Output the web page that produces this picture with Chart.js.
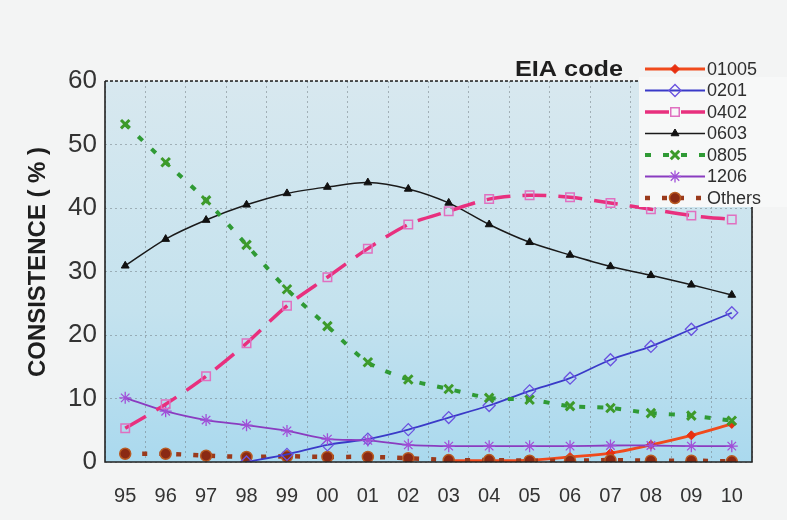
<!DOCTYPE html>
<html>
<head>
<meta charset="utf-8">
<title>EIA code consistence</title>
<script src="https://cdn.jsdelivr.net/npm/chart.js@4.4.1/dist/chart.umd.min.js"></script>
<style>
  html, body { margin: 0; padding: 0; background: #f3f4f4; }
  #wrap { width: 787px; height: 520px; position: relative; }
</style>
</head>
<body>
<div id="wrap"><canvas id="eiaChart"></canvas></div>
<script>
'use strict';

// data ------------------------------------------------------------------------
const years = ['95', '96', '97', '98', '99', '00', '01', '02', '03', '04', '05', '06', '07', '08', '09', '10'];
const yTicks = [0, 10, 20, 30, 40, 50, 60];

const code01005 = [null, null, null, null, null, null, null, null, 0.2, 0.2, 0.3, 0.8, 1.4, 2.7, 4.2, 6.0];
const code0201 = [null, null, null, 0, 1.2, 2.7, 3.6, 5.1, 7.0, 8.9, 11.2, 13.2, 16.1, 18.2, 20.9, 23.5];
const code0402 = [5.3, 9.1, 13.5, 18.7, 24.6, 29.1, 33.6, 37.4, 39.5, 41.4, 42.0, 41.7, 40.8, 39.8, 38.8, 38.2];
const code0603 = [30.9, 35.1, 38.1, 40.5, 42.3, 43.3, 44.0, 43.0, 40.8, 37.4, 34.6, 32.6, 30.8, 29.4, 27.9, 26.3];
const code0805 = [53.2, 47.2, 41.2, 34.2, 27.2, 21.4, 15.7, 13.0, 11.5, 10.1, 9.8, 8.8, 8.5, 7.7, 7.3, 6.5];
const code1206 = [10.1, 8.0, 6.6, 5.8, 4.9, 3.6, 3.4, 2.7, 2.5, 2.5, 2.5, 2.5, 2.6, 2.6, 2.5, 2.5];
const codeOthers = [1.3, 1.3, 1.0, 0.8, 0.9, 0.8, 0.8, 0.6, 0.3, 0.3, 0.2, 0.2, 0.3, 0.2, 0.2, 0.1];

const legendTitle = 'EIA code';
const yTitle = 'CONSISTENCE ( % )';
const fontName = "'Liberation Sans', Arial, sans-serif";

// datasets -------------------------------------------------------------------
function series(label, data, style) {
  return Object.assign({
    label: label,
    data: data,
    fill: false,
    tension: 0.3,
    spanGaps: false,
    pointHoverRadius: 0
  }, style);
}

let datasets = [
  series('0805', code0805, {
    borderColor: '#2f9a35', borderWidth: 4, borderDash: [6, 12],
    pointStyle: 'crossRot', pointRadius: 6, pointBorderColor: '#3d9a2a',
    pointBorderWidth: 3, pointBackgroundColor: '#3d9a2a'
  }),
  series('0402', code0402, {
    borderColor: '#e8307e', borderWidth: 3.5, borderDash: [24, 12],
    pointStyle: 'rect', pointRadius: 6, pointBorderColor: '#e070c0',
    pointBorderWidth: 1.5, pointBackgroundColor: 'rgba(255,255,255,0)'
  }),
  series('0603', code0603, {
    borderColor: '#1a1a1a', borderWidth: 1.5,
    pointStyle: 'triangle', pointRadius: 4.5, pointBorderColor: '#111',
    pointBackgroundColor: '#111', pointBorderWidth: 1
  }),
  series('1206', code1206, {
    borderColor: '#8a3cc0', borderWidth: 1.8,
    pointStyle: 'star', pointRadius: 6, pointBorderColor: '#a050d8',
    pointBorderWidth: 1.3, pointBackgroundColor: '#a050d8'
  }),
  series('0201', code0201, {
    borderColor: '#3a3ac8', borderWidth: 1.8,
    pointStyle: 'rectRot', pointRadius: 6, pointBorderColor: '#6a52e0',
    pointBorderWidth: 1.3, pointBackgroundColor: 'rgba(255,255,255,0)'
  }),
  series('Others', codeOthers, {
    borderColor: '#9a3a1c', borderWidth: 4.5, borderDash: [5, 12],
    pointStyle: 'circle', pointRadius: 5.5, pointBorderColor: '#b85a22',
    pointBorderWidth: 1.5, pointBackgroundColor: '#8a2a14'
  }),
  series('01005', code01005, {
    borderColor: '#f04a1c', borderWidth: 2.8,
    pointStyle: 'rectRot', pointRadius: 4.5, pointBorderColor: '#e83010',
    pointBorderWidth: 1, pointBackgroundColor: '#e83010'
  })
];

// legend order as printed in the picture
const legendOrder = ['01005', '0201', '0402', '0603', '0805', '1206', 'Others'];

// background, frame, legend and titles --------------------------------------
const decorPlugin = {
  id: 'decor',
  beforeDraw(chart) {
    let ctx = chart.ctx;
    let a = chart.chartArea;
    ctx.save();
    ctx.fillStyle = '#f3f4f4';
    ctx.fillRect(0, 0, chart.width, chart.height);
    let grad = ctx.createLinearGradient(0, a.top, 0, a.bottom);
    grad.addColorStop(0, '#d8e8ef');
    grad.addColorStop(0.6, '#c4e2ee');
    grad.addColorStop(1, '#aad9ee');
    ctx.fillStyle = grad;
    ctx.fillRect(a.left, a.top, a.right - a.left, a.bottom - a.top);
    ctx.restore();
  },
  afterDraw(chart) {
    let ctx = chart.ctx;
    let a = chart.chartArea;
    let boxLeft = 639;
    let boxBottom = 207;
    ctx.save();

    // legend box over the top right corner
    ctx.fillStyle = '#f7f8f8';
    ctx.fillRect(boxLeft, a.top - 4, chart.width - boxLeft, boxBottom - a.top + 4);

    // frame
    ctx.strokeStyle = '#222';
    ctx.lineWidth = 1.6;
    ctx.beginPath();
    ctx.moveTo(a.left, a.top);
    ctx.lineTo(a.left, a.bottom);
    ctx.lineTo(a.right, a.bottom);
    ctx.lineTo(a.right, boxBottom);
    ctx.stroke();
    ctx.setLineDash([3, 2]);
    ctx.beginPath();
    ctx.moveTo(a.left, a.top);
    ctx.lineTo(boxLeft, a.top);
    ctx.stroke();
    ctx.setLineDash([]);

    // legend title
    ctx.fillStyle = '#1e1e1e';
    ctx.font = 'bold 22px ' + fontName;
    ctx.textBaseline = 'middle';
    ctx.textAlign = 'left';
    let tw = ctx.measureText(legendTitle).width;
    ctx.save();
    ctx.translate(515, 70);
    ctx.scale(108 / tw, 1);
    ctx.fillText(legendTitle, 0, 0);
    ctx.restore();

    // legend rows
    ctx.font = '18px ' + fontName;
    for (let i = 0; i < legendOrder.length; i++) {
      let ds = datasets.find(d => d.label === legendOrder[i]);
      let y = 69 + i * 21.5;
      ctx.strokeStyle = ds.borderColor;
      ctx.lineWidth = ds.borderWidth;
      ctx.setLineDash(ds.borderDash || []);
      ctx.beginPath();
      ctx.moveTo(645, y);
      ctx.lineTo(705, y);
      ctx.stroke();
      ctx.setLineDash([]);
      // drawPoint fills and strokes with the current styles
      ctx.fillStyle = ds.pointBackgroundColor;
      ctx.strokeStyle = ds.pointBorderColor;
      ctx.lineWidth = ds.pointBorderWidth;
      Chart.helpers.drawPoint(ctx, {
        pointStyle: ds.pointStyle,
        radius: ds.pointRadius,
        rotation: 0,
        borderWidth: ds.pointBorderWidth
      }, 675, y);
      ctx.fillStyle = '#2e2e2e';
      ctx.fillText(ds.label, 707, y + 1);
    }

    // y axis title
    ctx.save();
    ctx.translate(38, 262);
    ctx.rotate(-Math.PI / 2);
    ctx.font = 'bold 24px ' + fontName;
    ctx.textAlign = 'center';
    ctx.fillStyle = '#1e1e1e';
    let yw = ctx.measureText(yTitle).width;
    ctx.scale(230 / yw, 1);
    ctx.fillText(yTitle, 0, 0);
    ctx.restore();

    ctx.restore();
  }
};

let ctx = document.getElementById('eiaChart').getContext('2d');
let eiaChart = new Chart(ctx, {
  type: 'line',
  data: {
    labels: years,
    datasets: datasets
  },
  options: {
    responsive: true,
    maintainAspectRatio: false,
    animation: false,
    layout: { padding: { left: 0, top: 81, right: 35, bottom: 0 } },
    plugins: {
      legend: { display: false },
      tooltip: { enabled: false }
    },
    scales: {
      x: {
        offset: true,
        grid: {
          offset: true,
          drawTicks: false,
          color: 'rgba(110,120,125,0.5)',
          lineWidth: 1
        },
        border: { display: false, dash: [2, 3] },
        ticks: {
          padding: 22,
          color: '#333',
          font: { family: fontName, size: 20 },
          maxRotation: 0,
          autoSkip: false
        },
        afterFit(scale) { scale.height = 58; }
      },
      y: {
        min: 0,
        max: 60,
        afterBuildTicks(scale) {
          scale.ticks = yTicks.map(v => ({ value: v }));
        },
        grid: {
          drawTicks: false,
          color: 'rgba(110,120,125,0.5)',
          lineWidth: 1
        },
        border: { display: false, dash: [2, 3] },
        ticks: {
          padding: 8,
          color: '#333',
          font: { family: fontName, size: 26 }
        },
        afterFit(scale) { scale.width = 105; }
      }
    }
  },
  plugins: [decorPlugin]
});
</script>
</body>
</html>
